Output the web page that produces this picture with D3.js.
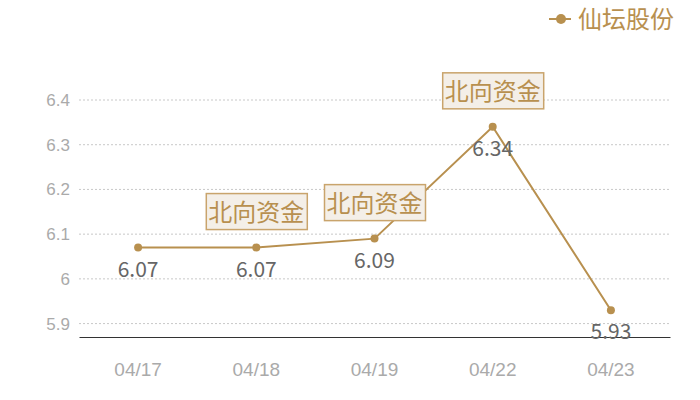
<!DOCTYPE html>
<html>
<head>
<meta charset="utf-8">
<script src="https://cdn.jsdelivr.net/npm/d3@7/dist/d3.min.js"></script>
<style>
  body { margin: 0; background: #fff; }
  svg { font-family: "Noto Sans CJK SC", "Noto Sans", sans-serif; }
</style>
</head>
<body>
<div id="chart"></div>
<script>
var dates = ["04/17", "04/18", "04/19", "04/22", "04/23"];
var prices = [6.07, 6.07, 6.09, 6.34, 5.93];
var yTicks = [5.9, 6.0, 6.1, 6.2, 6.3, 6.4];
var notes = ["04/18", "04/19", "04/22"];
var noteText = "北向资金";
var seriesName = "仙坛股份";

var svgWidth = 700;
var svgHeight = 400;
var gold = "#b8904f";

var svg = d3.select("#chart")
  .append("svg")
  .attr("width", svgWidth)
  .attr("height", svgHeight);

// scales
var x = d3.scaleBand()
  .domain(dates)
  .range([79, 670]);

var y = d3.scaleLinear()
  .domain([5.87, 6.4])
  .range([337, 100]);

var cx = d => x(d) + x.bandwidth() / 2;

// grid lines
svg.append("g")
  .selectAll("line")
  .data(yTicks)
  .enter()
  .append("line")
  .attr("x1", 79)
  .attr("x2", 670)
  .attr("y1", d => y(d))
  .attr("y2", d => y(d))
  .attr("stroke", "#c8c8c8")
  .attr("stroke-dasharray", "2,2");

// y axis labels
var leftAxis = d3.axisLeft(y)
  .tickValues(yTicks)
  .tickSize(0)
  .tickPadding(9)
  .tickFormat(d => d3.format("~g")(d));

var yAxis = svg.append("g")
  .attr("transform", "translate(79,0)")
  .call(leftAxis);
yAxis.select(".domain").remove();
yAxis.selectAll("text")
  .attr("fill", "#aaa")
  .attr("font-size", 17);

// x axis
var bottomAxis = d3.axisBottom(x).tickSize(0).tickPadding(26);
var xAxis = svg.append("g")
  .attr("transform", "translate(0,337)")
  .call(bottomAxis);
xAxis.select(".domain").attr("stroke", "#333");
xAxis.selectAll("text")
  .attr("fill", "#aaa")
  .attr("font-size", 19);

// line
var line = d3.line()
  .x((d, i) => cx(dates[i]))
  .y(d => y(d));

svg.append("path")
  .datum(prices)
  .attr("d", line)
  .attr("fill", "none")
  .attr("stroke", gold)
  .attr("stroke-width", 2);

svg.append("g")
  .selectAll("circle")
  .data(prices)
  .enter()
  .append("circle")
  .attr("cx", (d, i) => cx(dates[i]))
  .attr("cy", d => y(d))
  .attr("r", 4)
  .attr("fill", gold);

// value labels
svg.append("g")
  .selectAll("text")
  .data(prices)
  .enter()
  .append("text")
  .attr("x", (d, i) => cx(dates[i]))
  .attr("y", d => y(d) + 29)
  .attr("text-anchor", "middle")
  .attr("fill", "#666")
  .attr("font-size", 21)
  .text(d => d3.format(".2f")(d));

// annotations
var noteG = svg.append("g")
  .selectAll("g")
  .data(notes)
  .enter()
  .append("g")
  .attr("transform", d => `translate(${cx(d)}, ${y(prices[dates.indexOf(d)]) - 18})`);

noteG.append("rect")
  .attr("x", -50)
  .attr("y", -36)
  .attr("width", 101)
  .attr("height", 36)
  .attr("fill", "#f4efe8")
  .attr("stroke", "#c9a46c")
  .attr("stroke-width", 1.5);

noteG.append("text")
  .attr("y", -9)
  .attr("text-anchor", "middle")
  .attr("fill", gold)
  .attr("font-size", 24)
  .text(noteText);

// legend
var legend = svg.append("g").attr("transform", "translate(549,19)");
legend.append("line")
  .attr("x1", 0).attr("x2", 22)
  .attr("stroke", gold).attr("stroke-width", 2);
legend.append("circle")
  .attr("cx", 12).attr("r", 5)
  .attr("fill", gold);
legend.append("text")
  .attr("x", 29)
  .attr("y", 9)
  .attr("fill", gold)
  .attr("font-size", 24)
  .text(seriesName);
</script>
</body>
</html>
